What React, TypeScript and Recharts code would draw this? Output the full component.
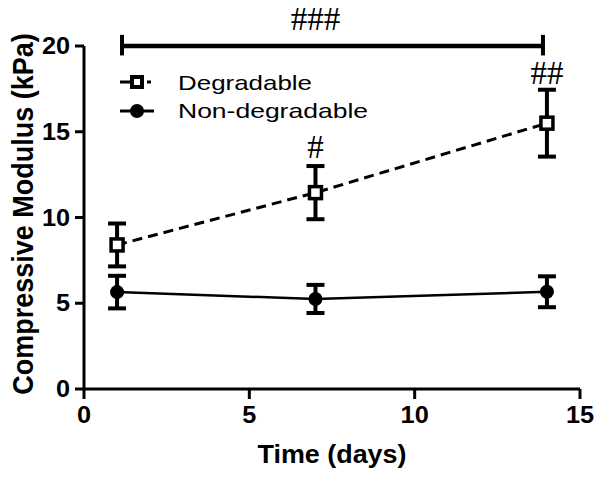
import React from 'react';
import {
  ComposedChart,
  Line,
  XAxis,
  YAxis,
  ErrorBar,
  ReferenceLine,
  ReferenceDot,
  Customized,
} from 'recharts';

const days = [1, 7, 14];
const degradable = [8.4, 11.45, 15.5];
const degradableErr = [1.25, 1.55, 1.95];
const nonDegradable = [5.65, 5.25, 5.67];
const nonDegradableErr = [0.95, 0.82, 0.9];
const xTicks = [0, 5, 10, 15];
const yTicks = [0, 5, 10, 15, 20];
const seriesNames = ['Degradable', 'Non-degradable'];

const bracketX = [1.15, 13.88];
const bracketY = 20;
const bracketCap = [19.45, 20.65];
const annotations = [
  { x: 7, y: 20.96, text: '###' },
  { x: 14, y: 17.8, text: '##' },
  { x: 7, y: 13.49, text: '#' },
];

const data = days.map((d, i) => ({
  day: d,
  deg: degradable[i],
  degErr: degradableErr[i],
  non: nonDegradable[i],
  nonErr: nonDegradableErr[i],
}));

const SANS = "Arial, 'Liberation Sans', sans-serif";
const SERIF = "'Liberation Serif', 'Times New Roman', serif";

const XTick = (props: any) => {
  const { x, y, payload } = props;
  return (
    <g transform={`translate(${x},${y})`}>
      <text
        transform="scale(1.1,1)"
        textAnchor="middle"
        dy="0.71em"
        fontFamily={SANS}
        fontWeight="bold"
        fontSize={23}
        fill="#000"
      >
        {payload.value}
      </text>
    </g>
  );
};

const YTick = (props: any) => {
  const { x, y, payload } = props;
  return (
    <g transform={`translate(${x},${y})`}>
      <text
        transform="scale(1.1,1)"
        textAnchor="end"
        dy="0.355em"
        fontFamily={SANS}
        fontWeight="bold"
        fontSize={23}
        fill="#000"
      >
        {payload.value}
      </text>
    </g>
  );
};

const SquareDot = (props: any) => {
  const { cx, cy, index } = props;
  if (cx == null || cy == null) return null;
  return (
    <rect key={`sq-${index}`} x={cx - 6} y={cy - 6} width={12} height={12} fill="#fff" stroke="#000" strokeWidth={3.5} />
  );
};

const CircleDot = (props: any) => {
  const { cx, cy, index } = props;
  if (cx == null || cy == null) return null;
  return <circle key={`c-${index}`} cx={cx} cy={cy} r={7} fill="#000" stroke="none" />;
};

const Overlay = () => (
  <g>
    {/* Legend */}
    <line x1={120} y1={82} x2={131} y2={82} stroke="#000" strokeWidth={3} />
    <rect x={132} y={77} width={10} height={10} fill="#fff" stroke="#000" strokeWidth={4} />
    <line x1={147} y1={82} x2={151} y2={82} stroke="#000" strokeWidth={3} />
    <text x={178} y={90} fontFamily={SANS} fontSize={21} fill="#000" textLength={134} lengthAdjust="spacingAndGlyphs">
      {seriesNames[0]}
    </text>
    <line x1={120} y1={111} x2={154} y2={111} stroke="#000" strokeWidth={3} />
    <circle cx={137} cy={111} r={7} fill="#000" />
    <text x={178} y={118} fontFamily={SANS} fontSize={21} fill="#000" textLength={190} lengthAdjust="spacingAndGlyphs">
      {seriesNames[1]}
    </text>
    {/* Axis titles */}
    <g transform="translate(33,214) scale(1.12,1) rotate(-90)">
      <text x={0} y={0} textAnchor="middle" fontFamily={SANS} fontWeight="bold" fontSize={27} fill="#000">
        Compressive Modulus (kPa)
      </text>
    </g>
    <text
      x={332}
      y={463}
      textAnchor="middle"
      fontFamily={SANS}
      fontWeight="bold"
      fontSize={25}
      fill="#000"
      textLength={149}
      lengthAdjust="spacingAndGlyphs"
    >
      Time (days)
    </text>
  </g>
);

export default function App() {
  return (
    <div style={{ position: 'absolute', left: 0, top: 0, width: 602, height: 479, background: '#fff' }}>
      <ComposedChart
        width={602}
        height={479}
        data={data}
        margin={{ top: 46, right: 22, bottom: 30, left: 24 }}
      >
        <XAxis
          dataKey="day"
          type="number"
          domain={[0, 15]}
          ticks={xTicks}
          interval={0}
          height={60}
          tickSize={10}
          tickMargin={8}
          tick={<XTick />}
          axisLine={{ stroke: '#000', strokeWidth: 3 }}
          tickLine={{ stroke: '#000', strokeWidth: 3 }}
        />
        <YAxis
          type="number"
          domain={[0, 20]}
          ticks={yTicks}
          interval={0}
          width={60}
          tickSize={9}
          tickMargin={5}
          tick={<YTick />}
          axisLine={{ stroke: '#000', strokeWidth: 3 }}
          tickLine={{ stroke: '#000', strokeWidth: 3 }}
        />
        <ReferenceLine
          segment={[
            { x: bracketX[0], y: bracketY },
            { x: bracketX[1], y: bracketY },
          ]}
          stroke="#000"
          strokeWidth={4.5}
          ifOverflow="visible"
        />
        <ReferenceLine
          segment={[
            { x: bracketX[0], y: bracketCap[0] },
            { x: bracketX[0], y: bracketCap[1] },
          ]}
          stroke="#000"
          strokeWidth={4}
          ifOverflow="visible"
        />
        <ReferenceLine
          segment={[
            { x: bracketX[1], y: bracketCap[0] },
            { x: bracketX[1], y: bracketCap[1] },
          ]}
          stroke="#000"
          strokeWidth={4}
          ifOverflow="visible"
        />
        {annotations.map((a, i) => (
          <ReferenceDot
            key={`ann-${i}`}
            x={a.x}
            y={a.y}
            r={0}
            ifOverflow="visible"
            shape={(p: any) => (
              <text
                x={p.cx}
                y={p.cy}
                textAnchor="middle"
                fontFamily={SERIF}
                fontSize={33}
                fill="#000"
              >
                {a.text}
              </text>
            )}
          />
        ))}
        <Line
          dataKey="non"
          name={seriesNames[1]}
          stroke="#000"
          strokeWidth={2.5}
          dot={CircleDot}
          activeDot={false}
          isAnimationActive={false}
        >
          <ErrorBar dataKey="nonErr" direction="y" width={9} stroke="#000" strokeWidth={4} />
        </Line>
        <Line
          dataKey="deg"
          name={seriesNames[0]}
          stroke="#000"
          strokeWidth={3}
          strokeDasharray="10 6"
          dot={SquareDot}
          activeDot={false}
          isAnimationActive={false}
        >
          <ErrorBar dataKey="degErr" direction="y" width={9} stroke="#000" strokeWidth={4} />
        </Line>
        <Customized component={Overlay} />
      </ComposedChart>
    </div>
  );
}
